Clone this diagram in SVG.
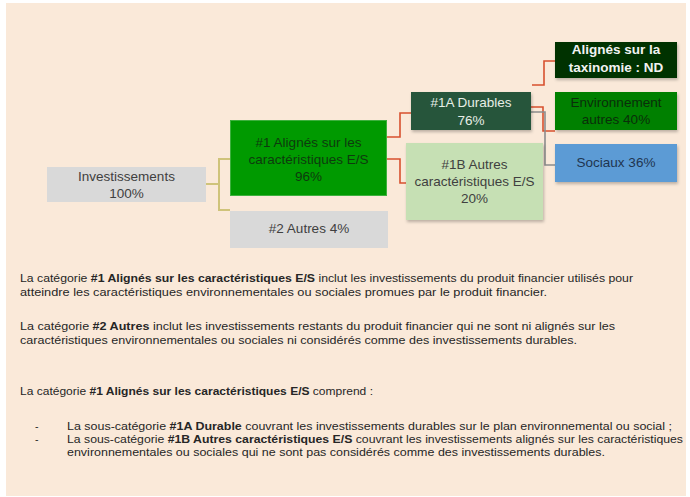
<svg xmlns="http://www.w3.org/2000/svg" width="690" height="497" viewBox="0 0 690 497">
<defs>
<filter id="sh" x="-10%" y="-10%" width="125%" height="140%">
<feDropShadow dx="1" dy="2" stdDeviation="1.5" flood-color="#000" flood-opacity="0.25"/>
</filter>
<style>
.nt{font-family:"Liberation Sans",Arial,sans-serif;font-size:13.5px;text-anchor:middle}
.bt{font-family:"Liberation Sans",Arial,sans-serif;font-size:10.5px;fill:#262626}
.b{font-weight:bold}
.cy{fill:none;stroke:#CFC37A;stroke-width:2}
.cr{fill:none;stroke:#D8502E;stroke-width:1.6}
.cg{fill:none;stroke:#8C8C8C;stroke-width:1.6}
</style>
</defs>
<rect x="0" y="0" width="690" height="497" fill="#ffffff"/>
<rect x="6" y="3" width="680" height="493" fill="#FAE9D9"/>

<g id="connectors">
<polyline class="cy" points="206,184 219,184"/>
<polyline class="cy" points="230,159 219,159 219,210 230,210"/>
<polyline class="cr" points="387,137 400,137 400,113 411,113"/>
<polyline class="cr" points="387,159 400,159 400,183 406,183"/>
<polyline class="cr" points="532,85 544,85 544,61 555,61"/>
<polyline class="cr" points="531,107 543,107 543,131 555,131"/>
<polyline class="cg" points="531,112 545,112 545,165 555,165"/>
</g>

<g id="n-invest">
<rect x="47" y="167" width="159" height="35" fill="#D9D9D9"/>
<text class="nt" x="126.5" y="181" fill="#404040">Investissements</text>
<text class="nt" x="126.5" y="198" fill="#404040">100%</text>
</g>

<g id="n-1">
<rect x="230.5" y="120.5" width="156" height="75" fill="#009A00" stroke="#3DB03D" stroke-width="1"/>
<text class="nt" x="308.5" y="147" fill="#0E3A0E">#1 Alignés sur les</text>
<text class="nt" x="308.5" y="164" fill="#0E3A0E">caractéristiques E/S</text>
<text class="nt" x="308.5" y="181" fill="#0E3A0E">96%</text>
</g>

<g id="n-2">
<rect x="230" y="211" width="158" height="37" fill="#D9D9D9"/>
<text class="nt" x="309" y="233" fill="#404040">#2 Autres 4%</text>
</g>

<g id="n-1a">
<rect x="411" y="92" width="120" height="38" fill="#27553A" filter="url(#sh)"/>
<text class="nt" x="471" y="107" fill="#E6EEE6">#1A Durables</text>
<text class="nt" x="471" y="125" fill="#E6EEE6">76%</text>
</g>

<g id="n-1b">
<rect x="406" y="143" width="137" height="77" fill="#C6E0B4" filter="url(#sh)"/>
<text class="nt" x="474.5" y="169" fill="#404040">#1B Autres</text>
<text class="nt" x="474.5" y="186" fill="#404040">caractéristiques E/S</text>
<text class="nt" x="474.5" y="203" fill="#404040">20%</text>
</g>

<g id="n-taxo">
<rect x="555" y="42" width="122" height="36" fill="#003300" filter="url(#sh)"/>
<text class="nt b" x="616" y="54" fill="#F2F2F2">Alignés sur la</text>
<text class="nt b" x="616" y="72" fill="#F2F2F2">taxinomie : ND</text>
</g>

<g id="n-env">
<rect x="555" y="92" width="122" height="38" fill="#008000" filter="url(#sh)"/>
<text class="nt" x="616" y="107" fill="#0A2E0A">Environnement</text>
<text class="nt" x="616" y="124" fill="#0A2E0A">autres 40%</text>
</g>

<g id="n-soc">
<rect x="555" y="144" width="122" height="38" fill="#5B9BD5" filter="url(#sh)"/>
<text class="nt" x="616" y="167" fill="#1F3550">Sociaux 36%</text>
</g>

<g id="body">
<text class="bt" x="20" y="282" textLength="613" lengthAdjust="spacingAndGlyphs">La catégorie <tspan class="b">#1 Alignés sur les caractéristiques E/S</tspan> inclut les investissements du produit financier utilisés pour</text>
<text class="bt" x="20" y="296" textLength="527" lengthAdjust="spacingAndGlyphs">atteindre les caractéristiques environnementales ou sociales promues par le produit financier.</text>
<text class="bt" x="20" y="330" textLength="595" lengthAdjust="spacingAndGlyphs">La catégorie <tspan class="b">#2 Autres</tspan> inclut les investissements restants du produit financier qui ne sont ni alignés sur les</text>
<text class="bt" x="20" y="344" textLength="557" lengthAdjust="spacingAndGlyphs">caractéristiques environnementales ou sociales ni considérés comme des investissements durables.</text>
<text class="bt" x="20" y="395" textLength="353" lengthAdjust="spacingAndGlyphs">La catégorie <tspan class="b">#1 Alignés sur les caractéristiques E/S</tspan> comprend :</text>
<text class="bt" x="35" y="430">-</text>
<text class="bt" x="67" y="430" textLength="605" lengthAdjust="spacingAndGlyphs">La sous-catégorie <tspan class="b">#1A Durable</tspan> couvrant les investissements durables sur le plan environnemental ou social ;</text>
<text class="bt" x="35" y="443">-</text>
<text class="bt" x="67" y="443" textLength="616" lengthAdjust="spacingAndGlyphs">La sous-catégorie <tspan class="b">#1B Autres caractéristiques E/S</tspan> couvrant les investissements alignés sur les caractéristiques</text>
<text class="bt" x="67" y="456" textLength="538" lengthAdjust="spacingAndGlyphs">environnementales ou sociales qui ne sont pas considérés comme des investissements durables.</text>
</g>
</svg>
